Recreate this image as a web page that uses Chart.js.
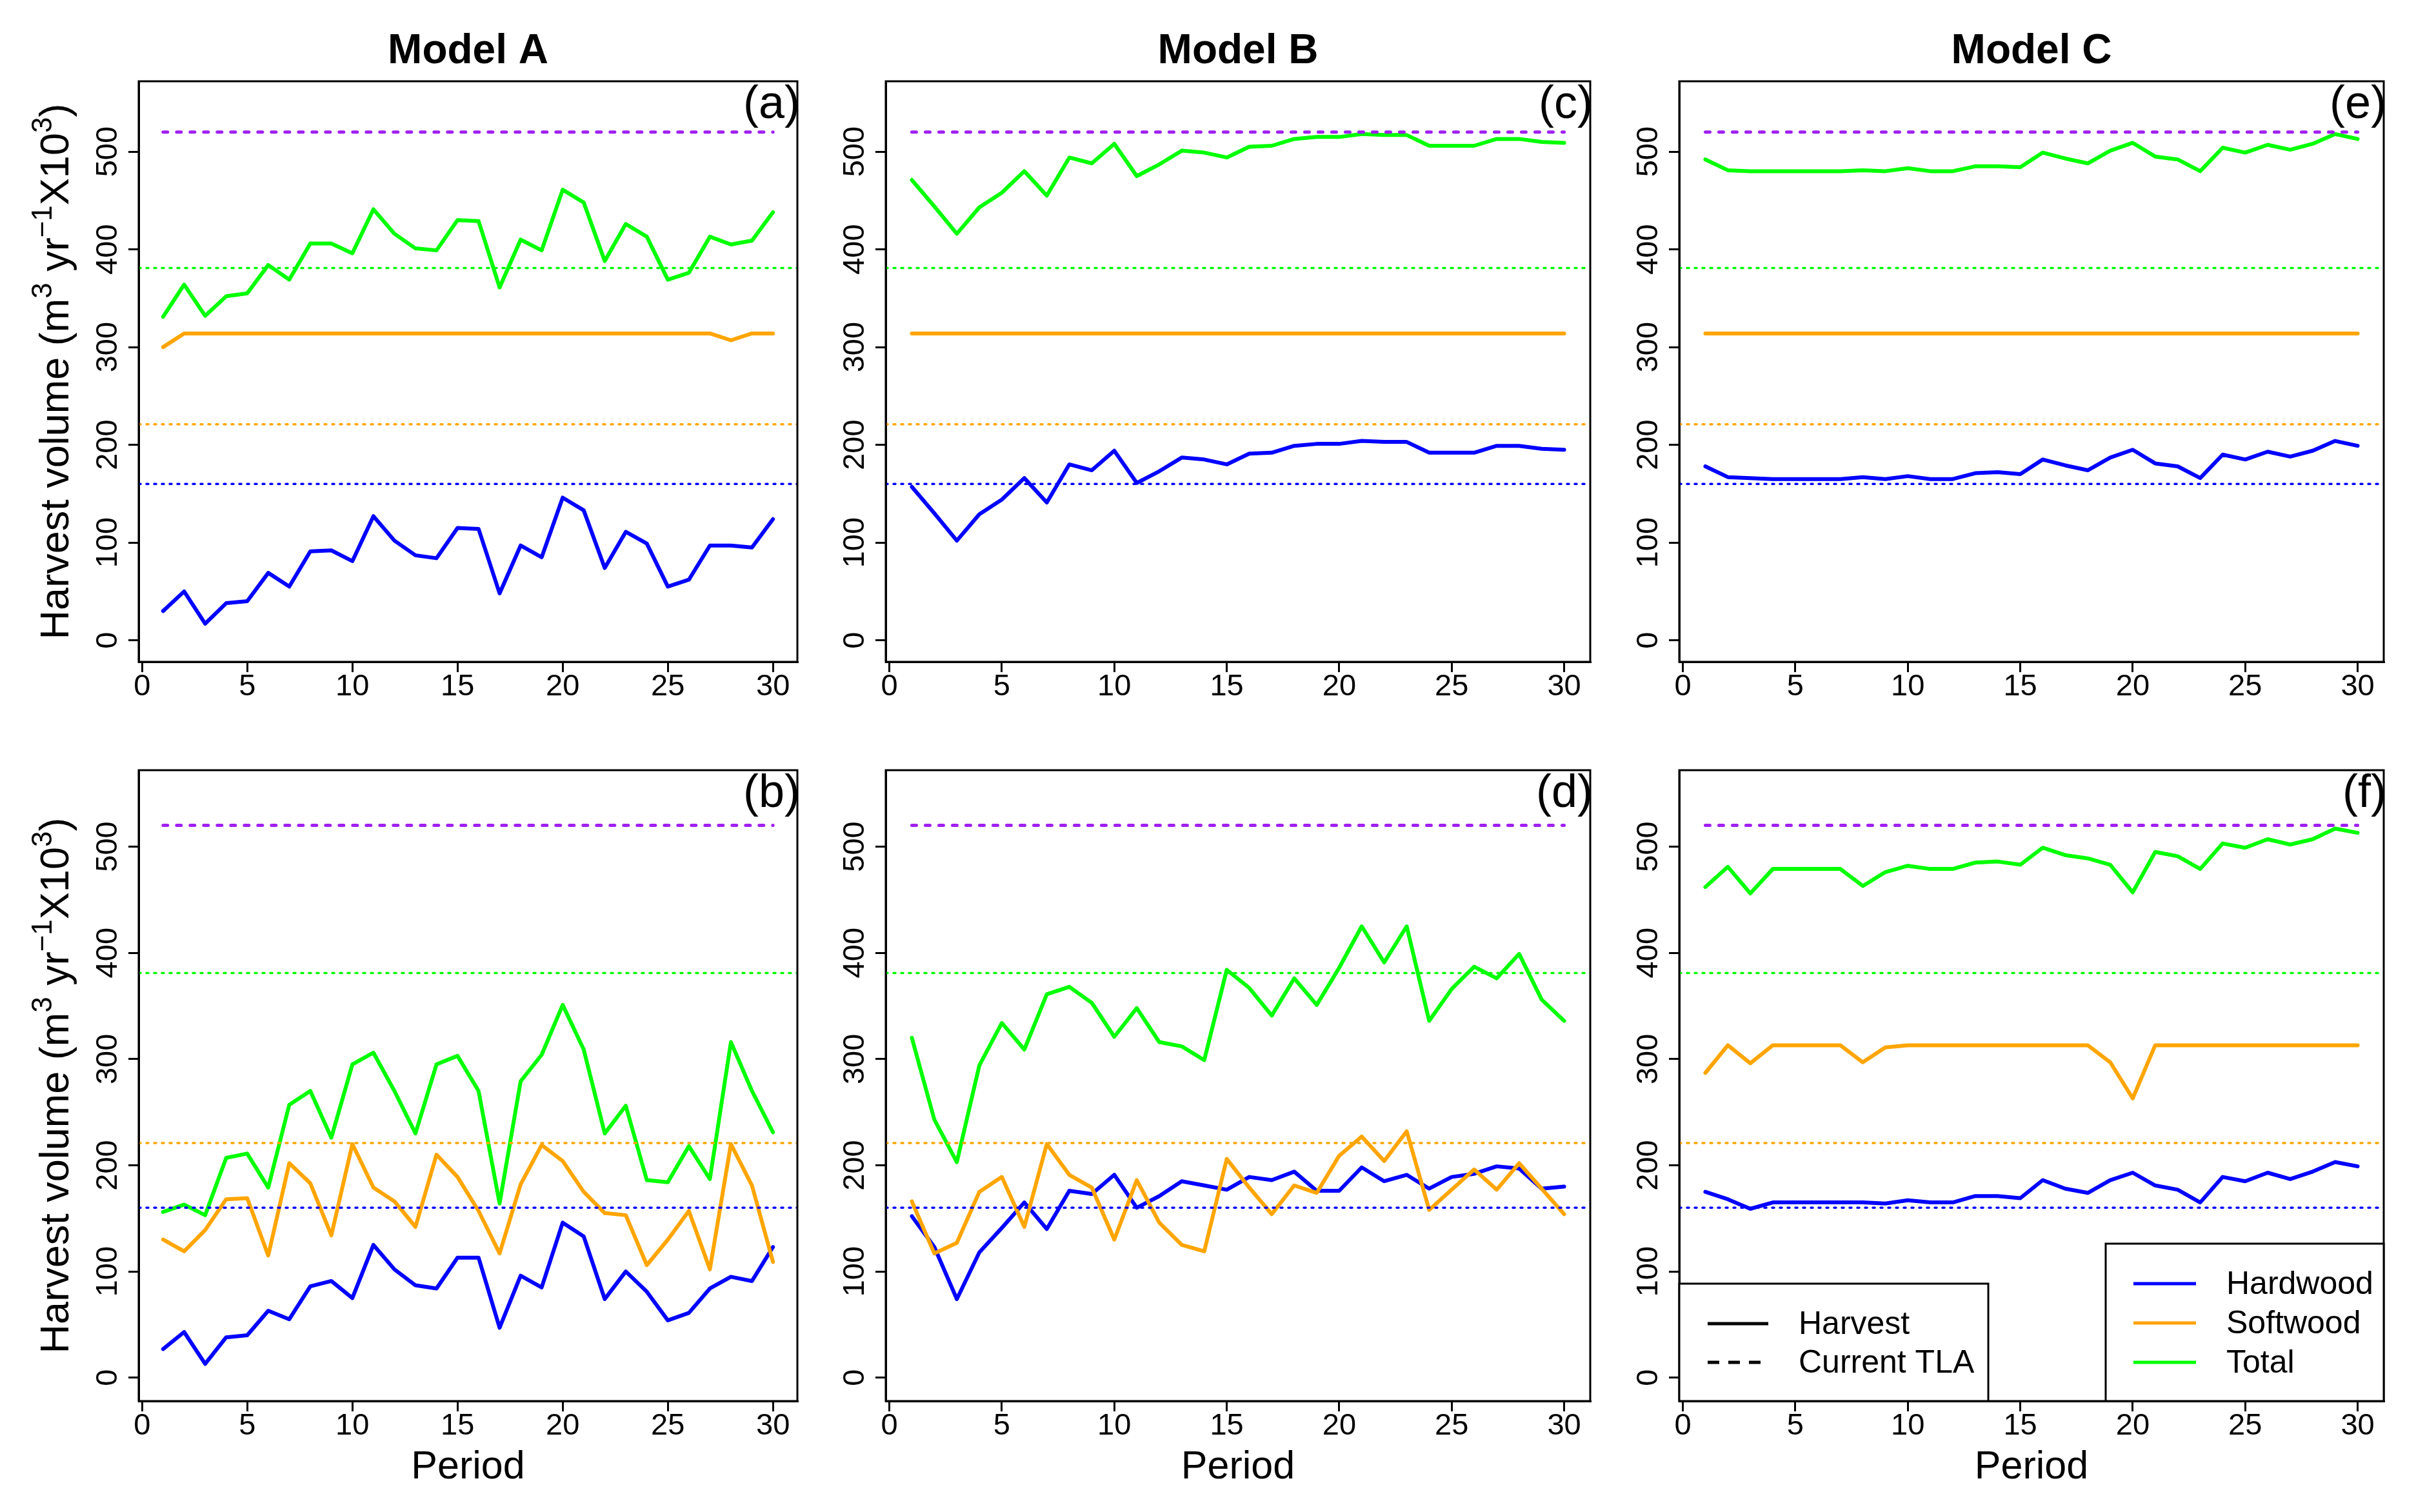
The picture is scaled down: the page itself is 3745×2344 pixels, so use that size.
<!DOCTYPE html>
<html>
<head>
<meta charset="utf-8">
<script src="https://cdn.jsdelivr.net/npm/chart.js@4.4.1/dist/chart.umd.min.js"></script>
<style>
  html, body { margin: 0; padding: 0; background: #fff; }
  #page { position: relative; width: 3745px; height: 2344px; background: #fff; overflow: hidden; }
  #page canvas { position: absolute; }
</style>
</head>
<body>
<div id="page">
  <canvas id="pa"></canvas>
  <canvas id="pc"></canvas>
  <canvas id="pe"></canvas>
  <canvas id="pb"></canvas>
  <canvas id="pd"></canvas>
  <canvas id="pf"></canvas>
</div>
<script>
// ---- data ----
const periods = [1, 2, 3, 4, 5, 6, 7, 8, 9, 10, 11, 12, 13, 14, 15, 16, 17, 18, 19, 20, 21, 22, 23, 24, 25, 26, 27, 28, 29, 30];
const models = ["Model A", "Model B", "Model C"];
const yTicks = [0, 100, 200, 300, 400, 500];
const xTicks = [0, 5, 10, 15, 20, 25, 30];

// current TLA levels
const tlaHardwood = 160;
const tlaSoftwood = 221;
const tlaTotal = 381;
const tlaMax = 520;

// (a) Model A, top row
const hwA = [30, 50, 17, 38, 40, 69, 55, 91, 92, 81, 127, 102, 87, 84, 115, 114, 48, 97, 85, 146, 133, 74, 111, 99, 55, 62, 97, 97, 95, 124];
const swA = [300, 314, 314, 314, 314, 314, 314, 314, 314, 314, 314, 314, 314, 314, 314, 314, 314, 314, 314, 314, 314, 314, 314, 314, 314, 314, 314, 307, 314, 314];
const totA = [331, 364, 332, 352, 355, 384, 369, 406, 406, 396, 441, 416, 401, 399, 430, 429, 361, 410, 399, 461, 448, 388, 426, 413, 369, 376, 413, 405, 409, 438];

// (b) Model A, bottom row
const hwB = [27, 43, 13, 38, 40, 63, 55, 86, 91, 75, 125, 102, 87, 84, 113, 113, 47, 96, 85, 146, 133, 74, 100, 81, 54, 61, 84, 95, 91, 123];
const swB = [130, 119, 139, 168, 169, 115, 202, 183, 134, 220, 179, 166, 142, 210, 189, 157, 117, 182, 219, 204, 175, 155, 153, 106, 130, 157, 102, 220, 181, 109];
const totB = [156, 163, 153, 207, 211, 179, 257, 270, 226, 295, 306, 270, 230, 295, 303, 270, 164, 279, 304, 351, 309, 230, 256, 186, 184, 218, 187, 316, 270, 231];

// (c) Model B, top row
const hwC = [157, 130, 102, 129, 144, 166, 141, 180, 174, 194, 161, 173, 187, 185, 180, 191, 192, 199, 201, 201, 204, 203, 203, 192, 192, 192, 199, 199, 196, 195];
const swC = [314, 314, 314, 314, 314, 314, 314, 314, 314, 314, 314, 314, 314, 314, 314, 314, 314, 314, 314, 314, 314, 314, 314, 314, 314, 314, 314, 314, 314, 314];
const totC = [471, 444, 416, 443, 458, 480, 455, 494, 488, 508, 475, 487, 501, 499, 494, 505, 506, 513, 515, 515, 518, 517, 517, 506, 506, 506, 513, 513, 510, 509];

// (d) Model B, bottom row
const hwD = [152, 123, 74, 118, 141, 165, 140, 176, 173, 191, 160, 171, 185, 181, 177, 189, 186, 194, 176, 176, 198, 185, 191, 178, 189, 192, 199, 197, 178, 180];
const swD = [166, 117, 127, 175, 189, 142, 220, 191, 179, 130, 186, 146, 125, 119, 206, 179, 154, 181, 174, 209, 227, 204, 232, 158, 177, 196, 177, 202, 178, 154];
const totD = [320, 243, 203, 294, 334, 309, 361, 368, 353, 321, 348, 316, 312, 299, 384, 367, 341, 376, 351, 386, 425, 391, 425, 336, 366, 387, 376, 399, 356, 336];

// (e) Model C, top row
const hwE = [178, 167, 166, 165, 165, 165, 165, 167, 165, 168, 165, 165, 171, 172, 170, 185, 179, 174, 187, 195, 181, 178, 166, 190, 185, 193, 188, 194, 204, 199];
const swE = [314, 314, 314, 314, 314, 314, 314, 314, 314, 314, 314, 314, 314, 314, 314, 314, 314, 314, 314, 314, 314, 314, 314, 314, 314, 314, 314, 314, 314, 314];
const totE = [492, 481, 480, 480, 480, 480, 480, 481, 480, 483, 480, 480, 485, 485, 484, 499, 493, 488, 501, 509, 495, 492, 480, 504, 499, 507, 502, 508, 518, 513];

// (f) Model C, bottom row
const hwF = [175, 168, 159, 165, 165, 165, 165, 165, 164, 167, 165, 165, 171, 171, 169, 186, 178, 174, 186, 193, 181, 177, 165, 189, 185, 193, 187, 194, 203, 199];
const swF = [287, 313, 296, 313, 313, 313, 313, 297, 311, 313, 313, 313, 313, 313, 313, 313, 313, 313, 297, 263, 313, 313, 313, 313, 313, 313, 313, 313, 313, 313];
const totF = [462, 481, 456, 479, 479, 479, 479, 463, 476, 482, 479, 479, 485, 486, 483, 499, 492, 489, 483, 457, 495, 491, 479, 503, 499, 507, 502, 507, 517, 513];

const lineTypes = ["Harvest", "Current TLA"];
const seriesNames = ["Hardwood", "Softwood", "Total"];

// ---- look ----
const BLUE = "#0000FF", ORANGE = "#FFA500", GREEN = "#00FF00", PURPLE = "#A020F0";
const FONT = "'Liberation Sans', Arial, Helvetica, sans-serif";
// R-style axis range: data range plus 4% each side
const xMin = 1 - 0.04 * 29, xMax = 30 + 0.04 * 29;
const yMin = -0.04 * 550, yMax = 550 + 0.04 * 550;

// panel frames on the page (px)
const cols = [
  { x: 0, w: 1300, boxL: 215, boxR: 1236 },
  { x: 1250, w: 1300, boxL: 1373, boxR: 2465 },
  { x: 2490, w: 1255, boxL: 2603, boxR: 3695 }
];
const rows = [
  { y: 0, h: 1110, boxT: 126, boxB: 1026 },
  { y: 1110, h: 1234, boxT: 1194, boxB: 2172 }
];

const panels = [
  { id: "pa", col: 0, row: 0, tag: "(a)", hw: hwA, sw: swA, tot: totA },
  { id: "pc", col: 1, row: 0, tag: "(c)", hw: hwC, sw: swC, tot: totC },
  { id: "pe", col: 2, row: 0, tag: "(e)", hw: hwE, sw: swE, tot: totE },
  { id: "pb", col: 0, row: 1, tag: "(b)", hw: hwB, sw: swB, tot: totB },
  { id: "pd", col: 1, row: 1, tag: "(d)", hw: hwD, sw: swD, tot: totD },
  { id: "pf", col: 2, row: 1, tag: "(f)", hw: hwF, sw: swF, tot: totF, legend: true }
];

function series(vals, color, order) {
  return {
    data: periods.map((p, i) => ({ x: p, y: vals[i] })),
    borderColor: color, borderWidth: 6, pointRadius: 0, tension: 0, fill: false,
    borderJoinStyle: "round", borderCapStyle: "round", order: order
  };
}
function level(y, x0, x1, color, width, dash) {
  return {
    data: [{ x: x0, y: y }, { x: x1, y: y }],
    borderColor: color, borderWidth: width, borderDash: dash, pointRadius: 0,
    fill: false, borderCapStyle: "round", order: 0
  };
}

function drawYlab(ctx, cx, cy) {
  const parts = [["Harvest volume (m", 0], ["3", 1], [" yr", 0], ["\u22121", 1], ["X10", 0], ["3", 1], [")", 0]];
  const big = "63px " + FONT, small = "44px " + FONT;
  let total = 0;
  parts.forEach(p => { ctx.font = p[1] ? small : big; total += ctx.measureText(p[0]).width; });
  ctx.save();
  ctx.translate(cx, cy);
  ctx.rotate(-Math.PI / 2);
  ctx.fillStyle = "#000";
  ctx.textAlign = "left";
  ctx.textBaseline = "alphabetic";
  let x = -total / 2;
  parts.forEach(p => {
    ctx.font = p[1] ? small : big;
    ctx.fillText(p[0], x, p[1] ? -26 : 0);
    x += ctx.measureText(p[0]).width;
  });
  ctx.restore();
}

function drawLegend(ctx, a) {
  ctx.save();
  ctx.font = "50px " + FONT;
  ctx.textBaseline = "middle";
  ctx.textAlign = "left";
  ctx.lineWidth = 3;
  ctx.strokeStyle = "#000";
  // line type legend, bottom left
  ctx.fillStyle = "#fff";
  ctx.fillRect(a.left, a.bottom - 182, 479, 182);
  ctx.strokeRect(a.left, a.bottom - 182, 479, 182);
  const rowsL = [a.bottom - 120, a.bottom - 60];
  lineTypes.forEach((t, i) => {
    ctx.beginPath();
    ctx.lineWidth = 5;
    ctx.setLineDash(i === 0 ? [] : [18, 14]);
    ctx.moveTo(a.left + 44, rowsL[i]);
    ctx.lineTo(a.left + 138, rowsL[i]);
    ctx.stroke();
    ctx.setLineDash([]);
    ctx.fillStyle = "#000";
    ctx.fillText(t, a.left + 185, rowsL[i] + 2);
  });
  // species legend, bottom right
  ctx.lineWidth = 3;
  ctx.fillStyle = "#fff";
  ctx.fillRect(a.right - 431, a.bottom - 244, 431, 244);
  ctx.strokeRect(a.right - 431, a.bottom - 244, 431, 244);
  const colors = [BLUE, ORANGE, GREEN];
  const rowsR = [a.bottom - 182, a.bottom - 121, a.bottom - 60];
  seriesNames.forEach((t, i) => {
    ctx.beginPath();
    ctx.lineWidth = 5;
    ctx.strokeStyle = colors[i];
    ctx.moveTo(a.right - 388, rowsR[i]);
    ctx.lineTo(a.right - 291, rowsR[i]);
    ctx.stroke();
    ctx.fillStyle = "#000";
    ctx.fillText(t, a.right - 244, rowsR[i] + 2);
  });
  ctx.restore();
}

function decor(p) {
  return {
    id: "decor_" + p.id,
    afterDraw(chart) {
      const ctx = chart.ctx, a = chart.chartArea, ys = chart.scales.y;
      ctx.save();
      // full box
      ctx.strokeStyle = "#000";
      ctx.lineWidth = 3;
      ctx.strokeRect(a.left, a.top, a.right - a.left, a.bottom - a.top);
      // y tick labels, parallel to the axis
      ctx.fillStyle = "#000";
      ctx.font = "47px " + FONT;
      ctx.textAlign = "center";
      ctx.textBaseline = "alphabetic";
      ys.ticks.forEach(t => {
        const py = ys.getPixelForValue(t.value);
        ctx.save();
        ctx.translate(a.left - 34, py);
        ctx.rotate(-Math.PI / 2);
        ctx.fillText(String(t.value), 0, 0);
        ctx.restore();
      });
      // panel tag
      ctx.font = "72px " + FONT;
      ctx.textAlign = "right";
      ctx.fillText(p.tag, a.right + 4, a.top + 57);
      const cx = (a.left + a.right) / 2;
      if (p.row === 0) {
        ctx.font = "bold 64px " + FONT;
        ctx.textAlign = "center";
        ctx.fillText(models[p.col], cx, 98);
      } else {
        ctx.font = "61px " + FONT;
        ctx.textAlign = "center";
        ctx.fillText("Period", cx, a.bottom + 120);
      }
      ctx.restore();
      if (p.col === 0) drawYlab(ctx, 106, (a.top + a.bottom) / 2);
      if (p.legend) drawLegend(ctx, a);
    }
  };
}

function makePanel(p) {
  const c = cols[p.col], r = rows[p.row];
  const cv = document.getElementById(p.id);
  cv.width = c.w; cv.height = r.h;
  cv.style.left = c.x + "px"; cv.style.top = r.y + "px";
  cv.style.width = c.w + "px"; cv.style.height = r.h + "px";
  const padL = c.boxL - c.x, padR = c.x + c.w - c.boxR;
  const padT = r.boxT - r.y, padB = r.y + r.h - r.boxB;
  const axisGrid = { drawOnChartArea: false, drawTicks: true, tickLength: 16, color: "#000", lineWidth: 3 };
  new Chart(cv, {
    type: "line",
    data: {
      datasets: [
        level(tlaMax, 1, 30, PURPLE, 5, [7, 14]),
        level(tlaTotal, xMin, xMax, GREEN, 3.5, [3, 9]),
        level(tlaSoftwood, xMin, xMax, ORANGE, 3.5, [3, 9]),
        level(tlaHardwood, xMin, xMax, BLUE, 3.5, [3, 9]),
        series(p.tot, GREEN, 1),
        series(p.sw, ORANGE, 2),
        series(p.hw, BLUE, 3)
      ]
    },
    options: {
      responsive: false,
      animation: false,
      devicePixelRatio: 1,
      events: [],
      layout: { padding: { left: 0, top: padT, right: padR, bottom: 0 } },
      plugins: { legend: { display: false }, tooltip: { enabled: false } },
      scales: {
        x: {
          type: "linear", min: xMin, max: xMax,
          afterFit: s => { s.height = padB; },
          afterBuildTicks: s => { s.ticks = xTicks.map(v => ({ value: v })); },
          ticks: { autoSkip: false, maxRotation: 0, minRotation: 0, color: "#000", padding: -5, font: { family: FONT, size: 47 } },
          grid: axisGrid,
          border: { display: true, color: "#000", width: 3 }
        },
        y: {
          type: "linear", min: yMin, max: yMax,
          afterFit: s => { s.width = padL; },
          afterBuildTicks: s => { s.ticks = yTicks.map(v => ({ value: v })); },
          ticks: { display: false },
          grid: axisGrid,
          border: { display: true, color: "#000", width: 3 }
        }
      }
    },
    plugins: [decor(p)]
  });
}

panels.forEach(makePanel);
</script>
</body>
</html>
